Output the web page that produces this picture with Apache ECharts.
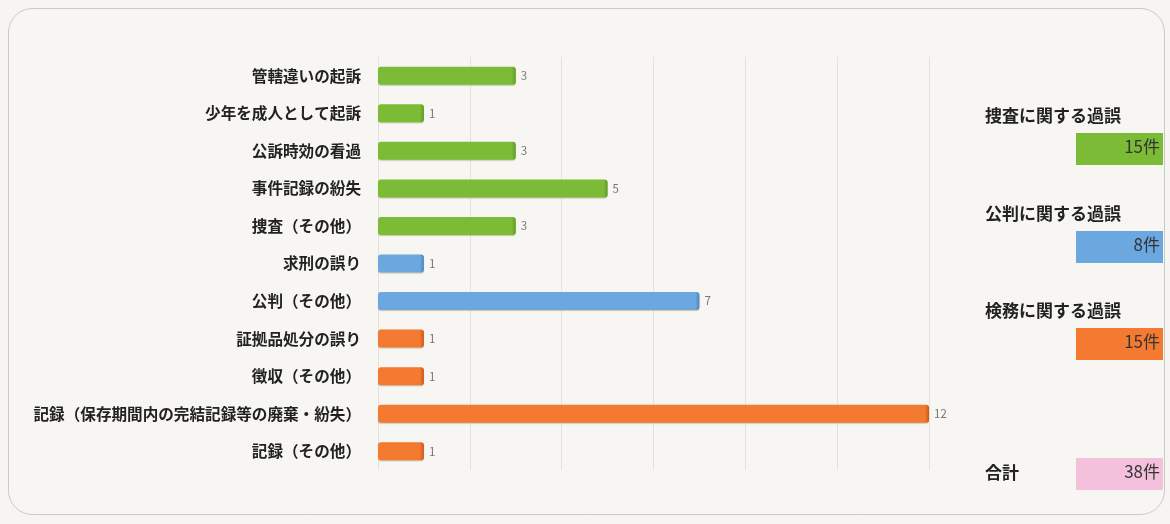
<!DOCTYPE html>
<html>
<head>
<meta charset="utf-8">
<script src="https://cdn.jsdelivr.net/npm/echarts@6/dist/echarts.min.js"></script>
<style>
html,body{margin:0;padding:0;background:#f6f5f1;}
#c{width:1170px;height:524px;}
</style>
</head>
<body>
<div id="c"></div>
<script>
const categories = ['管轄違いの起訴','少年を成人として起訴','公訴時効の看過','事件記録の紛失','捜査（その他）','求刑の誤り','公判（その他）','証拠品処分の誤り','徴収（その他）','記録（保存期間内の完結記録等の廃棄・紛失）','記録（その他）'];
const values = [3,1,3,5,3,1,7,1,1,12,1];
const groupOf = [0,0,0,0,0,1,1,2,2,2,2];
const groupNames = ['捜査に関する過誤','公判に関する過誤','検務に関する過誤'];
const groupTotals = ['15件','8件','15件'];
const totalLabel = '合計';
const totalValue = '38件';
const axisTicks = [0,2,4,6,8,10,12];

const groupColors = ['#7cbb36','#6ba8df','#f37a30'];
const groupEdge = ['#5e9a22','#4a86bf','#c9561a'];
const totalColor = '#f3c1dc';
const FONT = '"Noto Sans CJK JP","Noto Sans",sans-serif';

const chart = echarts.init(document.getElementById('c'));

const seriesData = values.map((v,i)=>({
  value: v,
  itemStyle: {
    color: new echarts.graphic.LinearGradient(0,0,1,0,[
      {offset:0,color:groupColors[groupOf[i]]},
      {offset:Math.max(0,1-4/(v*45.9)),color:groupColors[groupOf[i]]},
      {offset:1,color:groupEdge[groupOf[i]]}
    ]),
    borderRadius: 3,
    shadowColor:'rgba(120,100,40,0.35)',
    shadowBlur:1,
    shadowOffsetY:1
  }
}));

const graphics = [{
  type:'rect', left:8, top:8, z:-1,
  shape:{width:1156, height:506, r:24},
  style:{fill:'#f7f6f2', stroke:'#c9c9c6', lineWidth:1}
}];
const legendTops = [107, 205, 302];
groupNames.forEach((n,i)=>{
  graphics.push({type:'text', left:985, top:legendTops[i], style:{text:n, font:'bold 17px '+FONT, fill:'#222'}});
  graphics.push({type:'rect', left:1076, top:legendTops[i]+26, shape:{width:87,height:32}, style:{fill:groupColors[i]}});
  graphics.push({type:'text', right:10, top:legendTops[i]+31, style:{text:groupTotals[i], font:'17px '+FONT, fill:'#333', align:'right'}});
});
graphics.push({type:'text', left:985, top:464, style:{text:totalLabel, font:'bold 17px '+FONT, fill:'#222'}});
graphics.push({type:'rect', left:1076, top:458, shape:{width:87,height:32}, style:{fill:totalColor}});
graphics.push({type:'text', right:10, top:463, style:{text:totalValue, font:'17px '+FONT, fill:'#333', align:'right'}});

chart.setOption({
  backgroundColor:'#f6f5f1',
  animation:false,
  grid:{left:378, top:57, width:551, height:413, containLabel:false},
  xAxis:{
    type:'value', min:axisTicks[0], max:axisTicks[axisTicks.length-1], interval:2,
    axisLabel:{show:false}, axisLine:{show:false}, axisTick:{show:false},
    splitLine:{show:true, lineStyle:{color:'#e3e2dd', width:1}}
  },
  yAxis:{
    type:'category', data:categories, inverse:true,
    axisLine:{show:false}, axisTick:{show:false},
    axisLabel:{fontFamily:FONT, fontSize:15.6, fontWeight:'bold', color:'#222', margin:17}
  },
  series:[{
    type:'bar', data:seriesData, barWidth:18,
    label:{show:true, position:'right', distance:5, fontFamily:FONT, fontSize:11.5, color:'#777'}
  }],
  graphic:graphics
});
</script>
</body>
</html>
